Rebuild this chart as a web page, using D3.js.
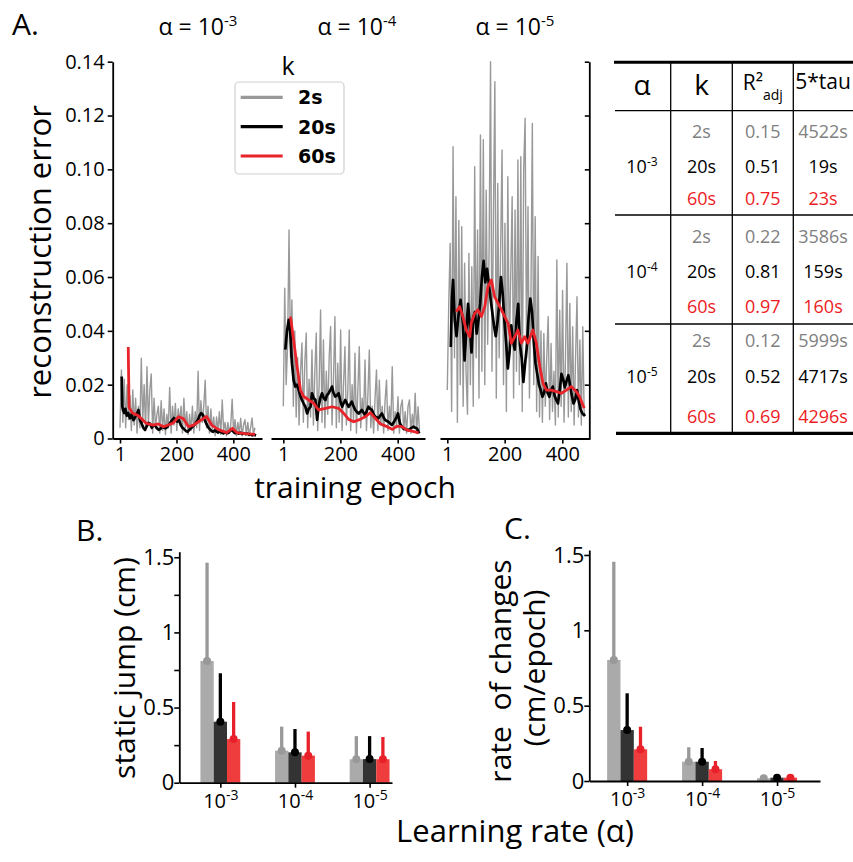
<!DOCTYPE html>
<html><head><meta charset="utf-8">
<script src="https://cdn.jsdelivr.net/npm/d3@7"></script>
<style>body{margin:0;background:#fff} svg{font-family:'Open Sans',sans-serif}</style>
</head><body><svg id="c" width="853" height="862"></svg>
<script>
// ---------------- DATA ----------------
// Panel A: reconstruction error per training epoch
const grayEpochStep = 5; // 2s series sampled every 5 epochs starting at epoch 1
const err2s_a3 = [0.004,0.0255,0.006,0.022,0.004,0.02,0.007,0.016,0.003,0.018,
 0.005,0.015,0.002,0.012,0.004,0.0298,0.006,0.02,0.003,0.0267,
 0.005,0.018,0.024,0.002,0.015,0.004,0.009,0.012,0.002,0.014,
 0.003,0.011,0.0015,0.009,0.004,0.019,0.002,0.012,0.005,0.013,
 0.003,0.011,0.006,0.012,0.002,0.015,0.004,0.01,0.0015,0.009,
 0.003,0.012,0.002,0.01,0.004,0.025,0.003,0.014,0.006,0.012,
 0.0217,0.004,0.012,0.002,0.011,0.003,0.008,0.001,0.008,0.003,
 0.01,0.0015,0.0143,0.003,0.006,0.001,0.006,0.002,0.005,0.0146,
 0.002,0.007,0.001,0.006,0.002,0.0075,0.001,0.005,0.007,0.0015,
 0.006,0.001,0.004,0.0076,0.0015,0.004];
const ep20s_a3 = [7,9,12,16,20,25,30,36,42,48,55,62,66,71,77,83,89,95,101,107,113,119,125,131,137,143,149,155,161,167,173,179,185,191,197,203,209,215,221,227,233,239,245,251,257,263,269,275,281,287,293,299,305,311,317,323,329,335,341,347,353,359,365,371,377,383,389,395,401,407,413,419,425,431,437,443,449,455,461,467,473,480];
const err20s_a3 = [0.023,0.012,0.0105,0.0095,0.011,0.0085,0.0095,0.0075,0.009,0.0068,0.008,0.0095,0.0106,0.007,0.0056,0.004,0.0032,0.0045,0.0058,0.0055,0.004,0.005,0.0048,0.0038,0.0032,0.0035,0.0045,0.004,0.0038,0.0042,0.0052,0.006,0.0068,0.0076,0.007,0.0063,0.0068,0.005,0.004,0.0035,0.0028,0.0025,0.0032,0.0038,0.0045,0.005,0.006,0.0068,0.0085,0.0094,0.0088,0.007,0.0055,0.0042,0.0035,0.0028,0.0025,0.003,0.0026,0.0022,0.0028,0.0022,0.0019,0.0024,0.002,0.0021,0.0028,0.0032,0.0025,0.002,0.0022,0.0018,0.0022,0.0017,0.002,0.0016,0.0018,0.0014,0.0016,0.0012,0.0014,0.0011];
const ep60s_a3 = [30,33,45,65,94,118,136,154,171,189,207,224,242,260,283,306,324,348,377,397,412,442,477];
const err60s_a3 = [0.034,0.0115,0.0095,0.0085,0.0056,0.005,0.0054,0.0044,0.005,0.0058,0.0081,0.0074,0.0044,0.005,0.0066,0.0082,0.005,0.0033,0.0022,0.0038,0.0022,0.0018,0.0015];

const err2s_a4 = [0.012,0.0558,0.02,0.035,0.0775,0.03,0.0515,0.012,0.04,0.008,
 0.03,0.005,0.025,0.0355,0.006,0.028,0.0392,0.004,0.022,0.008,
 0.0329,0.005,0.025,0.0392,0.003,0.02,0.0478,0.006,0.0366,0.004,
 0.025,0.009,0.03,0.0416,0.005,0.022,0.0453,0.004,0.028,0.006,
 0.0403,0.003,0.02,0.0341,0.005,0.018,0.0403,0.003,0.02,0.006,
 0.0317,0.002,0.018,0.0341,0.004,0.015,0.008,0.0292,0.003,0.016,
 0.0329,0.004,0.012,0.002,0.015,0.0255,0.003,0.0217,0.005,0.012,
 0.002,0.014,0.0217,0.003,0.012,0.005,0.0267,0.002,0.01,0.004,
 0.0155,0.002,0.012,0.0143,0.003,0.01,0.002,0.012,0.0143,0.002,
 0.009,0.004,0.0168,0.002,0.0118,0.003];
const ep20s_a4 = [8,14,20,25,31,37,43,49,55,60,66,72,78,84,90,96,101,107,113,119,124,130,136,142,148,153,159,165,171,176,182,188,194,200,206,211,217,223,229,235,240,246,252,258,264,270,275,281,287,293,298,304,310,316,322,328,333,339,345,351,356,362,368,374,380,386,391,396,401,405,408,414,420,429,438,446,455,461,467,471,475];
const err20s_a4 = [0.033,0.04,0.0441,0.04,0.028,0.0217,0.0193,0.02,0.018,0.016,0.0143,0.013,0.0118,0.0093,0.011,0.0118,0.0168,0.015,0.0143,0.0069,0.0118,0.015,0.0168,0.015,0.0143,0.016,0.0168,0.018,0.0193,0.017,0.0156,0.016,0.0168,0.014,0.0118,0.013,0.0143,0.013,0.0118,0.0128,0.0137,0.012,0.0106,0.0098,0.0093,0.01,0.0106,0.0095,0.0087,0.0105,0.0118,0.011,0.0106,0.009,0.0081,0.0078,0.0075,0.0085,0.0093,0.0078,0.0069,0.0065,0.0062,0.0055,0.005,0.006,0.0069,0.008,0.0093,0.007,0.0056,0.0045,0.0037,0.0033,0.0031,0.0038,0.0044,0.004,0.0037,0.003,0.0019];
const ep60s_a4 = [26,37,49,61,72,90,107,124,148,171,194,212,229,247,264,287,305,322,340,363,381,398,415,433,450,473];
const err60s_a4 = [0.0453,0.0366,0.0267,0.018,0.0156,0.0143,0.0131,0.0106,0.0112,0.0118,0.0112,0.0093,0.0071,0.0062,0.0069,0.0081,0.0096,0.0075,0.0054,0.0044,0.0034,0.0046,0.0044,0.0031,0.0027,0.0021];

const err2s_a5 = [0.018,0.05,0.0725,0.01,0.1084,0.03,0.0898,0.006,0.081,0.02,
 0.0787,0.012,0.0651,0.025,0.009,0.0688,0.02,0.0638,0.012,0.101,
 0.03,0.0775,0.015,0.1128,0.025,0.111,0.02,0.0923,0.035,0.07,
 0.14,0.025,0.0824,0.1326,0.015,0.0948,0.03,0.07,0.1072,0.02,
 0.08,0.01,0.0973,0.03,0.06,0.0898,0.015,0.0849,0.025,0.1035,
 0.02,0.1047,0.01,0.0998,0.119,0.03,0.0861,0.015,0.05,0.1171,
 0.02,0.0824,0.01,0.0676,0.008,0.04,0.006,0.039,0.012,0.03,
 0.0453,0.007,0.0353,0.01,0.025,0.005,0.0663,0.008,0.0477,0.012,
 0.055,0.006,0.03,0.0651,0.008,0.0502,0.01,0.0415,0.005,0.03,
 0.0527,0.008,0.0366,0.005,0.0415,0.008];
const ep20s_a5 = [13,17,21,27,33,40,47,55,61,67,73,79,85,91,97,103,109,115,121,127,133,139,145,151,157,163,169,175,181,187,193,199,205,211,217,223,229,235,241,247,253,259,265,271,277,283,289,295,301,307,313,319,325,331,337,343,349,355,361,367,373,379,385,391,397,403,409,415,421,427,433,439,445,451,457,463,469,475,480];
const err20s_a5 = [0.034,0.052,0.0589,0.044,0.038,0.046,0.0515,0.043,0.029,0.04,0.05,0.042,0.032,0.045,0.047,0.039,0.044,0.05,0.06,0.066,0.058,0.063,0.0577,0.052,0.047,0.042,0.038,0.043,0.05,0.06,0.054,0.044,0.036,0.026,0.032,0.042,0.036,0.033,0.044,0.05,0.035,0.03,0.021,0.028,0.034,0.045,0.052,0.047,0.036,0.028,0.024,0.02,0.018,0.0155,0.017,0.0205,0.017,0.0155,0.018,0.0193,0.016,0.0143,0.013,0.018,0.024,0.022,0.019,0.0215,0.0235,0.02,0.016,0.013,0.0145,0.018,0.014,0.011,0.0094,0.0087,0.009];
const ep60s_a5 = [32,44,55,67,79,84,96,107,119,131,142,154,165,177,189,200,212,223,235,246,258,269,281,298,310,322,333,345,362,380,397,414,431,449,460,476];
const err60s_a5 = [0.0471,0.049,0.0453,0.0403,0.0378,0.0428,0.0465,0.0478,0.0453,0.049,0.0564,0.0589,0.0527,0.0502,0.0478,0.0453,0.0428,0.0354,0.0378,0.0403,0.0354,0.0378,0.0354,0.0403,0.0354,0.0267,0.0205,0.018,0.018,0.0174,0.0168,0.018,0.0193,0.0174,0.0155,0.0112];

const errTicks = [0,0.02,0.04,0.06,0.08,0.10,0.12,0.14];
const epochTicks = [1,200,400];
const kLabels = ["2s","20s","60s"];
const alphaExps = ["-3","-4","-5"];

// Table
const tableR2 = [[0.15,0.51,0.75],[0.22,0.81,0.97],[0.12,0.52,0.69]];
const tableTau = [["4522s","19s","23s"],["3586s","159s","160s"],["5999s","4717s","4296s"]];

// Panel B: static jump (cm), mean and sd per learning rate
const staticMean2s = [0.81,0.213,0.156], staticSd2s = [0.654,0.16,0.154];
const staticMean20s = [0.406,0.202,0.157], staticSd20s = [0.322,0.155,0.153];
const staticMean60s = [0.29,0.18,0.156], staticSd60s = [0.247,0.16,0.148];
// Panel C: rate of changes (cm/epoch)
const rateMean2s = [0.803,0.128,0.018], rateSd2s = [0.652,0.096,0.01];
const rateMean20s = [0.338,0.128,0.022], rateSd20s = [0.244,0.091,0.01];
const rateMean60s = [0.21,0.078,0.022], rateSd60s = [0.15,0.055,0.012];
const barTicksB = [0,0.25,0.5,0.75,1,1.25,1.5];
const barTicksC = [0,0.5,1,1.5];

// ---------------- STYLE ----------------
const lineCol = ["#999999","#000000","#e8232a"];
const lineW = [1.4,2.7,2.8];
const barCol = ["#aaaaaa","#333333","#ef3c3c"];
const errCol = ["#999999","#000000","#e8202a"];
const tabCol = ["#808080","#000000","#ed1c24"];

const svg = d3.select("#c");
function styleAxis(g, fs){
  g.attr("font-family","'Open Sans',sans-serif").attr("font-size",fs);
  g.select(".domain").attr("stroke","#000").attr("stroke-width",1.8);
  g.selectAll(".tick line").attr("stroke","#000").attr("stroke-width",1.6);
  g.selectAll(".tick text").attr("fill","#000");
}
function supText(sel, base, exp, efs, dy){
  sel.append("tspan").text(base);
  sel.append("tspan").attr("font-size",efs).attr("dy",-dy).text(exp);
}

// ---------------- PANEL A ----------------
const yA = d3.scaleLinear().domain([0,0.14]).range([438.5,61.7]);
const subs = [
 {left:112.7,right:262,e1:120,e400:233.3,tx:198,g:err2s_a3,bE:ep20s_a3,b:err20s_a3,rE:ep60s_a3,r:err60s_a3},
 {left:271,right:425,e1:283.3,e400:397.7,tx:357,g:err2s_a4,bE:ep20s_a4,b:err20s_a4,rE:ep60s_a4,r:err60s_a4},
 {left:440,right:590,e1:447.3,e400:562.3,tx:515,g:err2s_a5,bE:ep20s_a5,b:err20s_a5,rE:ep60s_a5,r:err60s_a5}
];
subs.forEach((s,si)=>{
  const x = d3.scaleLinear().domain([1,400]).range([s.e1,s.e400]);
  x.domain([x.invert(s.left), x.invert(s.right)]).range([s.left,s.right]);
  const line = d3.line().x(d=>x(d[0])).y(d=>yA(d[1]));
  const series = [
    s.g.map((v,i)=>[1+i*grayEpochStep, v]),
    s.b.map((v,i)=>[s.bE[i], v]),
    s.r.map((v,i)=>[s.rE[i], v])
  ];
  series.forEach((d,j)=>{
    svg.append("path").attr("d",line(d)).attr("fill","none")
      .attr("stroke",lineCol[j]).attr("stroke-width",lineW[j]).attr("stroke-linejoin","round");
  });
  const gx = svg.append("g").attr("transform",`translate(0,${yA(0)})`)
    .call(d3.axisBottom(x).tickValues(epochTicks).tickSize(5).tickSizeOuter(0).tickPadding(3));
  styleAxis(gx,20);
  const t = svg.append("text").attr("x",s.tx).attr("y",35).attr("text-anchor","middle").attr("font-size",23);
  supText(t,"α = 10",alphaExps[si],15,9);
});
const gyA = svg.append("g").attr("transform",`translate(112.7,0)`)
  .call(d3.axisLeft(yA).tickValues(errTicks).tickFormat(d=>d===0?"0":d3.format(".2f")(d)).tickSize(5).tickSizeOuter(0).tickPadding(3));
styleAxis(gyA,20);
const gyA3 = svg.append("g").attr("transform",`translate(589.3,0)`)
  .call(d3.axisRight(yA).tickValues(errTicks.slice(1)).tickFormat("").tickSize(-4.5).tickSizeOuter(0));
styleAxis(gyA3,20);

svg.append("text").attr("x",12).attr("y",35).attr("font-size",30).text("A.");
svg.append("text").attr("transform","translate(51,252) rotate(-90)").attr("text-anchor","middle").attr("font-size",31).text("reconstruction error");
svg.append("text").attr("x",355).attr("y",498).attr("text-anchor","middle").attr("font-size",30).text("training epoch");

// legend
const lg = svg.append("g");
lg.append("rect").attr("x",235).attr("y",82).attr("width",109).attr("height",92).attr("rx",4)
  .attr("fill","#fff").attr("stroke","#d0d0d0").attr("stroke-width",1.2);
lg.append("text").attr("x",288).attr("y",75).attr("text-anchor","middle").attr("font-size",25).text("k");
const lgY = d3.scalePoint().domain(kLabels).range([97.3,156]);
kLabels.forEach((k,j)=>{
  lg.append("line").attr("x1",240.7).attr("x2",282.7).attr("y1",lgY(k)).attr("y2",lgY(k))
    .attr("stroke",lineCol[j]).attr("stroke-width",3.2);
  lg.append("text").attr("x",298).attr("y",lgY(k)+7).attr("font-family","'DejaVu Sans',sans-serif")
    .attr("font-weight","bold").attr("font-size",19).text(k);
});

// ---------------- TABLE ----------------
const tb = svg.append("g");
const colX = [642,701.5,762.8,823];
const vLines = [670.7,732.3,793.3];
const groupTop = [110.7,215,324];
const rowOff = [[27.6,62.6,94.3],[27.7,62.7,97.7],[22.7,59.3,99.3]];
tb.append("line").attr("x1",614).attr("x2",853).attr("y1",62.3).attr("y2",62.3).attr("stroke","#000").attr("stroke-width",3);
tb.append("line").attr("x1",616).attr("x2",853).attr("y1",433.3).attr("y2",433.3).attr("stroke","#000").attr("stroke-width",3.3);
groupTop.forEach(y=>tb.append("line").attr("x1",615).attr("x2",853).attr("y1",y).attr("y2",y).attr("stroke","#000").attr("stroke-width",1.3));
vLines.forEach(x=>tb.append("line").attr("x1",x).attr("x2",x).attr("y1",62).attr("y2",433).attr("stroke","#000").attr("stroke-width",1.3));
tb.append("text").attr("x",colX[0]).attr("y",95).attr("text-anchor","middle").attr("font-size",28).text("α");
tb.append("text").attr("x",colX[1]).attr("y",95).attr("text-anchor","middle").attr("font-size",28).text("k");
const r2h = tb.append("text").attr("x",colX[2]).attr("y",90).attr("text-anchor","middle").attr("font-size",21);
r2h.append("tspan").text("R²");
r2h.append("tspan").attr("font-size",14).attr("dy",10).text("adj");
tb.append("text").attr("x",colX[3]).attr("y",89).attr("text-anchor","middle").attr("font-size",21).text("5*tau");
groupTop.forEach((gt,gi)=>{
  const a = tb.append("text").attr("x",colX[0]).attr("y",gt+rowOff[gi][1]).attr("text-anchor","middle").attr("font-size",18);
  supText(a,"10",alphaExps[gi],12,7);
  kLabels.forEach((k,j)=>{
    const y = gt+rowOff[gi][j];
    [k, d3.format(".2f")(tableR2[gi][j]), tableTau[gi][j]].forEach((txt,c)=>{
      tb.append("text").attr("x",colX[c+1]).attr("y",y).attr("text-anchor","middle")
        .attr("font-size",18).attr("fill",tabCol[j]).text(txt);
    });
  });
});

// ---------------- PANELS B & C ----------------
function barPanel(cfg){
  const x = d3.scaleLinear().domain(cfg.xd).range(cfg.xr);
  const y = d3.scaleLinear().domain([0,cfg.ymax]).range(cfg.yr);
  const bw = 0.178;
  cfg.means.forEach((m,j)=>{
    m.forEach((v,i)=>{
      const cx = i + (j-1)*bw;
      svg.append("rect").attr("x",x(cx-bw/2)).attr("width",x(bw)-x(0))
        .attr("y",y(v)).attr("height",y(0)-y(v)).attr("fill",barCol[j]);
    });
  });
  cfg.means.forEach((m,j)=>{
    m.forEach((v,i)=>{
      const cx = x(i + (j-1)*bw);
      svg.append("line").attr("x1",cx).attr("x2",cx).attr("y1",y(v)).attr("y2",y(v+cfg.sds[j][i]))
        .attr("stroke",errCol[j]).attr("stroke-width",3.3);
      svg.append("circle").attr("cx",cx).attr("cy",y(v)).attr("r",4).attr("fill",errCol[j]);
    });
  });
  const gx = svg.append("g").attr("transform",`translate(0,${y(0)})`)
    .call(d3.axisBottom(x).tickValues([0,1,2]).tickSize(5).tickSizeOuter(0).tickPadding(6));
  styleAxis(gx,20);
  gx.selectAll(".tick text").each(function(d){
    const t = d3.select(this); t.text(null); supText(t,"10",alphaExps[d],14,8);
  });
  const gy = svg.append("g").attr("transform",`translate(${cfg.xr[0]},0)`)
    .call(d3.axisLeft(y).tickValues(cfg.ticks).tickFormat(d=>[0,0.5,1,1.5].includes(d)?d3.format("~g")(d):"")
      .tickSize(5).tickSizeOuter(0).tickPadding(0));
  styleAxis(gy,22);
}
barPanel({xd:[-0.55,2.3], xr:[179.3,392], ymax:1.537, yr:[782.7,551.7], ticks:barTicksB,
  means:[staticMean2s,staticMean20s,staticMean60s], sds:[staticSd2s,staticSd20s,staticSd60s]});
barPanel({xd:[-0.505,2.573], xr:[589.3,820], ymax:1.533, yr:[781,550], ticks:barTicksC,
  means:[rateMean2s,rateMean20s,rateMean60s], sds:[rateSd2s,rateSd20s,rateSd60s]});

svg.append("text").attr("x",76).attr("y",541).attr("font-size",30).text("B.");
svg.append("text").attr("x",504).attr("y",539).attr("font-size",30).text("C.");
svg.append("text").attr("transform","translate(135,668) rotate(-90)").attr("text-anchor","middle").attr("font-size",30).text("static jump (cm)");
svg.append("text").attr("transform","translate(511,671) rotate(-90)").attr("text-anchor","middle").attr("font-size",30).style("white-space","pre").text("rate  of changes");
svg.append("text").attr("transform","translate(545,668) rotate(-90)").attr("text-anchor","middle").attr("font-size",30).text("(cm/epoch)");
svg.append("text").attr("x",515).attr("y",842).attr("text-anchor","middle").attr("font-size",31).text("Learning rate (α)");
</script></body></html>
